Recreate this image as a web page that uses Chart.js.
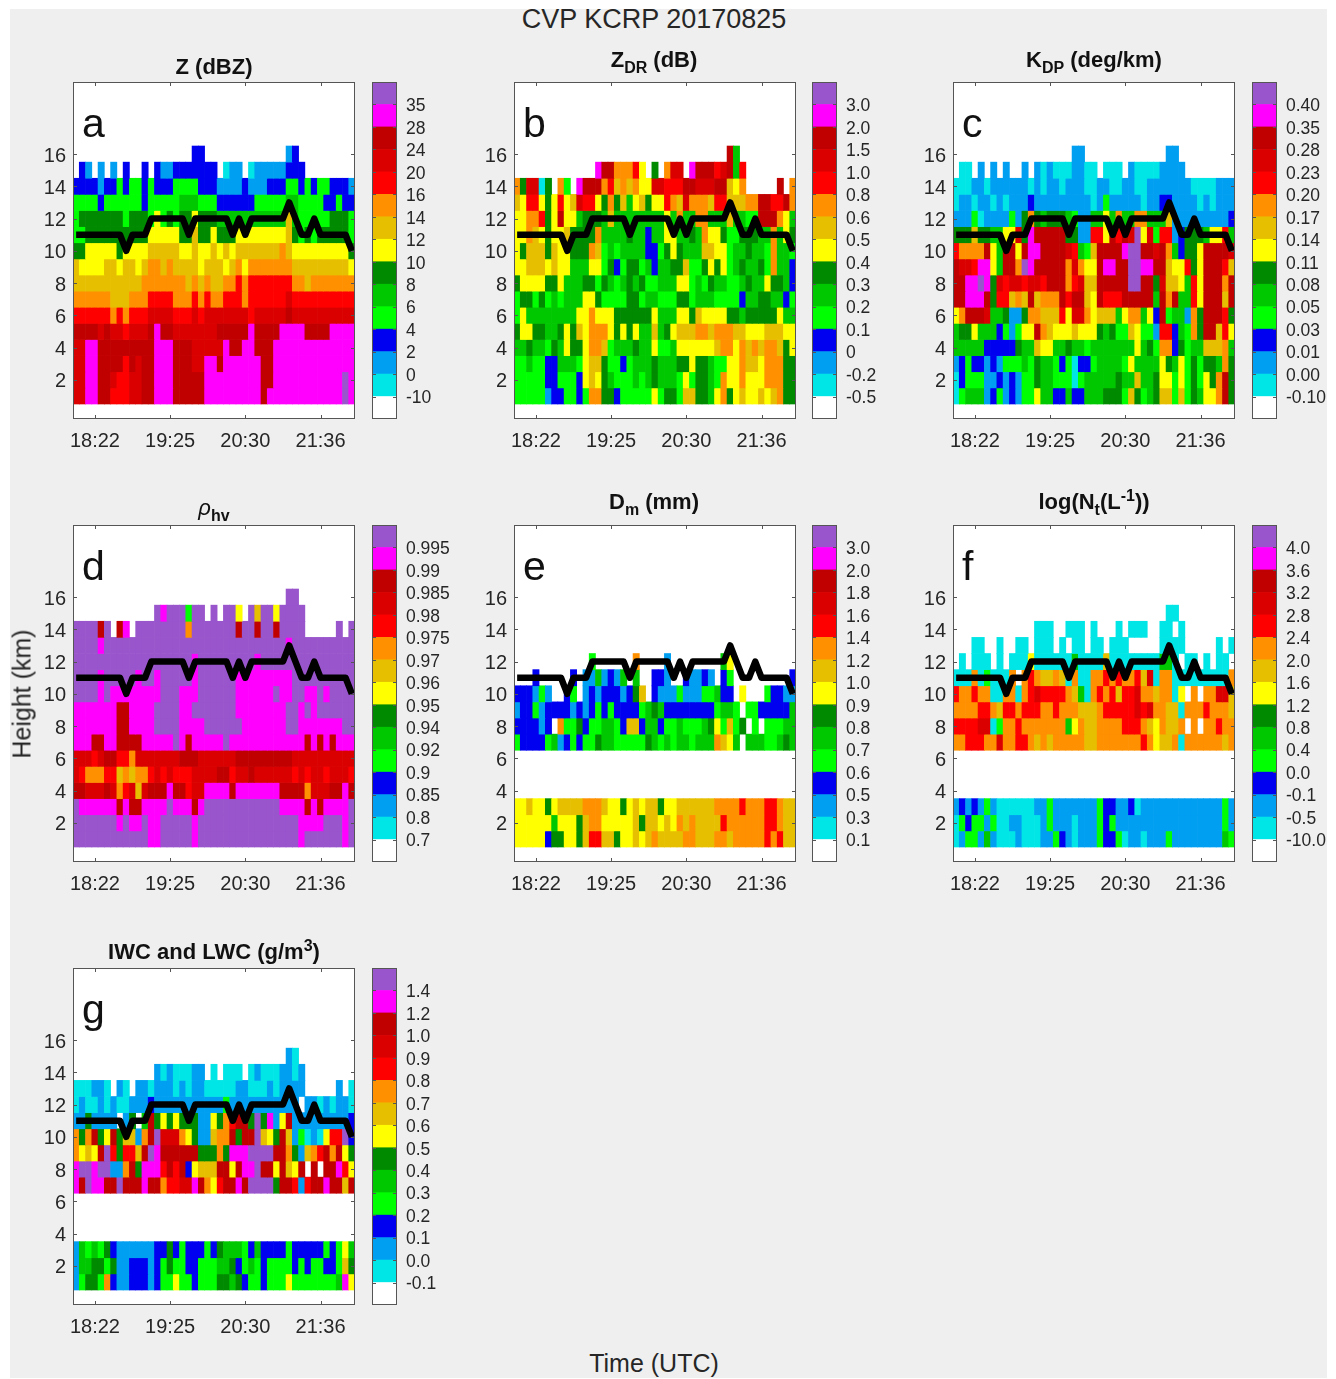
<!DOCTYPE html>
<html>
<head>
<meta charset="utf-8">
<title>CVP KCRP 20170825</title>
<script src="https://cdn.jsdelivr.net/npm/chart.js@4/dist/chart.umd.min.js"></script>
<style>
  html, body { margin: 0; padding: 0; background: #fff; }
  #page { position: absolute; left: 10px; top: 9px; width: 1317px; height: 1369px; background: #efefef; }
  canvas { position: absolute; filter: blur(0.5px); }
  .txt { position: absolute; transform: translate(-50%, -50%); white-space: nowrap; color: #262626; font-family: "Liberation Sans", Arial, sans-serif; }
  .title { font-size: 22px; font-weight: bold; color: #111; }
  .title sub { font-size: 16px; vertical-align: -6px; line-height: 0; }
  .title sup { font-size: 16px; vertical-align: 8px; line-height: 0; }
  .letter { transform: none; font-size: 41px; line-height: 1; color: #111; }
</style>
</head>
<body>
<div id="page"></div>
<script>
// time axis
const timeCols = [3, 15, 27, 39];
const timeLabels = ['18:22', '19:25', '20:30', '21:36'];
const heightTicks = [2, 4, 6, 8, 10, 12, 14, 16];
const rowHeights = [16, 15, 14, 13, 12, 11, 10, 9, 8, 7, 6, 5, 4, 3, 2, 1];

// black line, same in all panels (km, one per column)
const lineHeights = [11,11,11,11,11,11,11,11,10,11,11,11,12,12,12,12,12,12,11,12,12,12,12,12,12,11,12,11,12,12,12,12,12,12,13,12,11,11,12,11,11,11,11,11,10];

// colour classes: . and 1-9, a-e index into classColors
const classKeys = '.123456789abcde';
const classColors = ['#ffffff','#00e6e6','#009ff2','#0000f0','#00ff00','#00c800','#008a00','#ffff00','#e6c000','#ff9000','#ff0000','#da0000','#c00000','#ff00ff','#9955cc'];

// each row is one height, 16 km first, 45 columns
const zRows = [
  '..... ..... ..... ....3 3.... ..... ....2 3.... .....',
  '.32.2 .2.3. .3.32 23333 333.1 22.12 22223 33... .....',
  '33332 33434 43433 34444 33322 22322 23334 43434 43332',
  '44443 44444 43444 44555 44433 33334 44445 54444 33433',
  '46666 66646 66474 64667 66655 55555 55558 54444 46664',
  '44666 66666 66777 77668 66766 67777 77778 64646 66664',
  '66777 77677 77888 88778 77878 78888 88898 77777 77776',
  '87777 88788 78998 98888 78887 89799 99999 88888 88887',
  '88888 88888 89999 99989 89889 9a9aa aaaaa 99899 99999',
  '99999 98889 99aaa a999a 9a99a aa9aa aaaab aaaaa aaaaa',
  'aaaaa a9a9a aabbb baaab abbbb bbbab bbbbc bbbbb bbbbb',
  'ccccb cbbab bbcdc cbbbb bbbcc cccdc cccdd ddccc cdddd',
  'bbddc ccccc cccdd dcccb bbbbd ccddc ccddd ddddd ddddd',
  'bbddc cccac bccdd dcccb bddcd ddddd ccddd ddddd ddddd',
  'bbddc cbaab bccdd dcccc cdddd ddddd ccddd ddddd ddded',
  'bbddc caaab bccdd dcccc cdddd ddddd cdddd ddddd ddded'
];
const zdrRows = [
  '..... ..... ..... ..... ..... ..... ....c 5.... .....',
  '..... ..... ...dc c999a 7.6.9 bb.dc ccabc 5a... .....',
  '96bb1 6.94. dccc9 a8989 77bba aaccb bbcc8 79... ..c.9',
  '87aa7 67a78 baa76 96857 8677a 98b99 98aa8 8899c caac9',
  '7799a 67c77 56665 85555 55557 59559 95558 5544c cc975',
  '77987 67786 66695 55565 53557 75565 97764 46665 59576',
  '76888 68776 66984 54555 53346 76555 88774 55655 49554',
  '77888 78775 55774 63466 45355 66844 67674 56556 49553',
  '67777 66755 56646 54565 64455 57745 46554 45655 76653',
  '46646 45455 57764 44466 45544 46645 55444 43556 65534',
  '47555 55555 77977 76666 66755 57768 77776 65666 66755',
  '67766 55676 87999 76767 55856 78889 98999 88777 88877',
  '55655 46576 67998 45556 55744 57777 77899 79898 99867',
  '44544 33555 47886 44345 55655 56676 65447 79887 99966',
  '44444 33444 37876 54445 45655 54746 65497 79777 99966',
  '44444 23344 34996 63444 44746 64886 65796 78778 78966'
];
const kdpRows = [
  '..... ..... ..... ....2 2.... ..... ....2 2.... .....',
  '.11.2 .2.2. .2.21 21112 211.1 11.21 11122 22... .....',
  '11122 12222 22121 22122 21122 11221 12222 22211 11222',
  '12212 21212 22322 22222 22124 22222 12233 22221 21222',
  '22241 22224 26965 66654 22557 59559 95558 22222 22223',
  '66686 65577 b6dcc ccc66 22aa7 cacbe 7b4aa 23666 577a5',
  'a9999 c75cc 7cddc cccba 548cc ccdee ccbc9 53667 ccccb',
  'cbbad d75cc 9edcc ccc9b 977cd dccee ddcc8 77a67 ccca8',
  'ccdde d6bab babba ccc9a b88cc cccee cc6b8 875a7 ccc9c',
  'ccddd c6aa8 98c89 99cac c87ca aaccc cc5c9 c55a7 ccc8c',
  '79ccc b5562 26998 88a7b b9788 85799 573c4 55296 ccca6',
  '56675 55342 477c9 87778 77765 64487 442aa 35496 cc8a7',
  '55555 33333 65587 75565 54555 55557 56499 36455 88895',
  '23433 23244 45465 54341 33455 55475 55576 57464 66596',
  '13444 22323 24465 54441 45555 56558 55677 47464 769c6',
  '14555 23423 24475 53353 35556 66486 45688 48465 779c6'
];
const rhoRows = [
  '..... ..... ..... ..... ..... ..... ....e e.... .....',
  '..... ..... ...ed eee4e e.e.e e7.e8 ee7ee ee... .....',
  'eeeec e.cd. eeeee eee9e eeeee eceec eecee ee... ..e.e',
  'eeeed eeeee eeeee eeeee eeeee eeeee eeeed eeeee eeeee',
  'eeeee eeeee eeeee eeeed eeeee eeeed eeeee eeeee eeeee',
  'eeeed eeeee deede eeeed eeeee edddd ddddd eeeee eeeee',
  'eeeed edddd dddde eeddd eeeee edddd ddedd eedde deeee',
  'ddddd ddccd dddee eedde eeeee edddd dddde edede eeeee',
  'ddddd ddccd dddee eeddd deeee eeddd dddde edddd dddee',
  'dddcc ddccc cdddd dedcd dddde ddddd ddddd ddcdc dcddd',
  'bbbab ccaa9 bbbbb bbccc bbbbb bcccc ccccc bbbbb bbbbb',
  'ba999 aa898 99aba baaab bbbcc abbcb bbbbb ababb abbba',
  'ccbbb cb9ab 8bccc dccab bdddd cdddd dddcc cc9bb bccdc',
  'edddd ddcdc cdddd edddc deeee eeeee eeedd ddcdc dddde',
  'eeeee eeded dedde eeeed eeeee eeeee eeeee edddd eeede',
  'eeeee eeeee eedde eeeed eeeee eeeee eeeee edeee eeede'
];
const dmRows = [
  '..... ..... ..... ..... ..... ..... ..... ..... .....',
  '..... ..... ..... ..... ..... ..... ..... ..... .....',
  '..... ..... ..... ..... ..... ..... ..... ..... .....',
  '..... ..... ..... ..... ..... ..... ..... ..... .....',
  '..... ..... ..4.. ....9 ....2 ..... ...57 ..... .....',
  '...3. ....3 .2252 325.5 ..332 ..322 32.34 ..... ....3',
  '33324 2..34 .2323 33236 8.322 24222 44533 .7... 43322',
  '23342 33332 32343 43333 45653 33333 33455 4.443 33335',
  '33332 3.944 63445 54388 35534 45444 56748 46.4. 44455',
  '43333 45234 34465 54444 46545 45545 55987 5.555 44565',
  '..... ..... ..... ..... ..... ..... ..... ..... .....',
  '..... ..... ..... ..... ..... ..... ..... ..... .....',
  '..... ..... ..... ..... ..... ..... ..... ..... .....',
  '77877 67888 89998 77678 78867 78888 88999 9a999 aa988',
  '77777 75777 68997 77778 68878 79898 888a9 99999 aa988',
  '77777 36677 68aa8 86778 78988 88998 88998 99999 a9a88'
];
const ntRows = [
  '..... ..... ..... ..... ..... ..... ..... ..... .....',
  '..... ..... ..... ..... ..... ..... ....1 1.... .....',
  '..... ..... ...11 1..11 1.1.. .1.11 1..11 .1... .....',
  '...11 ..1.. 11.11 1.1.1 1.11. 111.. ...11 11... ..1.1',
  '.1.11 1.1.1 11711 11115 11118 11111 11155 1.11. 1.11.',
  '11191 41119 .9a98 89819 1199a 9a99a 8b199 11111 11119',
  'a99a9 91199 19aba aaa98 519a9 a8aab 99899 17.9. 99bb8',
  '9999a a98aa 9aaa9 9a999 8889a aaaab ab998 81999 a9998',
  'aaaab b1499 a9999 99957 98899 99aaa 98798 89.9. 99a99',
  '99aaa 99b99 aa989 89999 98899 99999 a9788 91999 99989',
  '..... ..... ..... ..... ..... ..... ..... ..... .....',
  '..... ..... ..... ..... ..... ..... ..... ..... .....',
  '..... ..... ..... ..... ..... ..... ..... ..... .....',
  '23232 42111 11122 42222 22243 32231 22222 22222 22242',
  '14344 24112 21112 42221 22243 42222 22222 22222 22242',
  '12442 52111 21112 24321 22243 34122 12224 22222 22254'
];
const wcRows = [
  '..... ..... ..... ..... ..... ..... ..... ..... .....',
  '..... ..... ..... ..... ..... ..... ....2 1.... .....',
  '..... ..... ...21 21112 2.1.1 11.12 11122 12... .....',
  '11122 1.21. 22122 21212 21111 12211 12122 22... ..2.1',
  '12112 12112 22322 22222 22224 22222 22222 2.221 21221',
  '22622 22.26 .5c67 67666 22769 acc6e 6d27c 22222 22223',
  '969c6 7c688 29ceb bb976 22899 c6cce 876c8 24121 7aae3',
  '9787c ea6aa 8cedc ccccc 66696 dddee eecc9 6289a c9c76',
  'deede e229c 6ddda cac37 888cc 7cdde cc7c8 7c.c. ccda7',
  'dcedd ccecc cdcc9 aabbd c97ac cdcee ee6cc a2acc dcc8c',
  '..... ..... ..... ..... ..... ..... ..... ..... .....',
  '..... ..... ..... ..... ..... ..... ..... ..... .....',
  '..... ..... ..... ..... ..... ..... ..... ..... .....',
  '25454 63222 22233 63433 34365 55435 33334 33333 43475',
  '25566 46223 33234 64433 44455 63454 34444 34344 33486',
  '24664 93223 33234 47443 44466 56344 34447 44444 445d7'
];

// colour bar labels, bottom to top
const zBar = ['-10','0','2','4','6','8','10','12','14','16','20','24','28','35'];
const zdrBar = ['-0.5','-0.2','0','0.1','0.2','0.3','0.4','0.5','0.6','0.8','1.0','1.5','2.0','3.0'];
const kdpBar = ['-0.10','0.00','0.01','0.03','0.05','0.08','0.11','0.14','0.17','0.20','0.23','0.28','0.35','0.40'];
const rhoBar = ['0.7','0.8','0.85','0.9','0.92','0.94','0.95','0.96','0.97','0.975','0.98','0.985','0.99','0.995'];
const dmBar = ['0.1','0.3','0.5','0.6','0.7','0.8','0.9','1.0','1.2','1.4','1.6','1.8','2.0','3.0'];
const ntBar = ['-10.0','-0.5','-0.1','0.0','0.4','0.8','1.2','1.6','2.0','2.4','2.8','3.2','3.6','4.0'];
const wcBar = ['-0.1','0.0','0.1','0.2','0.3','0.4','0.5','0.6','0.7','0.8','0.9','1.0','1.2','1.4'];

const FONT = '"Liberation Sans", Arial, sans-serif';
const TEXT = '#262626';
const PLOT_W = 282, PLOT_H = 337;
const page = document.getElementById('page');

function addText(html, x, y, cls, css) {
  const d = document.createElement('div');
  d.className = 'txt ' + (cls || '');
  d.innerHTML = html;
  d.style.left = (x - 10) + 'px';
  d.style.top = (y - 9) + 'px';
  if (css) Object.assign(d.style, css);
  page.appendChild(d);
}

function addCanvas(x, y, w, h) {
  const c = document.createElement('canvas');
  c.width = w; c.height = h;
  c.style.left = (x - 10) + 'px';
  c.style.top = (y - 9) + 'px';
  c.style.width = w + 'px';
  c.style.height = h + 'px';
  page.appendChild(c);
  return c;
}

// tick labels must not push the plot area in
function noPadding(s) {
  s.paddingTop = 0; s.paddingBottom = 0; s.paddingLeft = 0; s.paddingRight = 0;
}

// white plot area, dark frame and inward ticks like the matlab axes
const framePlugin = {
  id: 'frame',
  beforeDraw(chart) {
    const a = chart.chartArea, ctx = chart.ctx;
    ctx.save();
    ctx.fillStyle = '#fff';
    ctx.fillRect(a.left, a.top, a.right - a.left, a.bottom - a.top);
    ctx.restore();
  },
  afterDraw(chart) {
    const a = chart.chartArea, ctx = chart.ctx;
    ctx.save();
    ctx.strokeStyle = '#555';
    ctx.lineWidth = 1;
    ctx.strokeRect(a.left + 0.5, a.top + 0.5, a.right - a.left - 1, a.bottom - a.top - 1);
    ctx.beginPath();
    const y = chart.scales.y, x = chart.scales.x;
    y.ticks.forEach(t => {
      const p = Math.round(y.getPixelForValue(t.value)) + 0.5;
      ctx.moveTo(a.left, p); ctx.lineTo(a.left + 4, p);
      ctx.moveTo(a.right, p); ctx.lineTo(a.right - 4, p);
    });
    if (x.options.display) {
      x.ticks.forEach(t => {
        const p = Math.round(x.getPixelForValue(t.value)) + 0.5;
        ctx.moveTo(p, a.top); ctx.lineTo(p, a.top + 4);
        ctx.moveTo(p, a.bottom); ctx.lineTo(p, a.bottom - 4);
      });
    }
    ctx.stroke();
    ctx.restore();
  }
};

function drawPanel(px, py, rows) {
  const grid = rows.map(r => r.replace(/ /g, ''));
  const cols = lineHeights.map((_, i) => i);

  const datasets = rowHeights.map((h, r) => {
    const classes = grid[r].split('').map(c => classKeys.indexOf(c));
    return {
      type: 'bar',
      order: 1,
      grouped: false,
      barPercentage: 1,
      categoryPercentage: 1,
      borderWidth: 0,
      data: classes.map(k => (k > 0 ? [h - 0.5, h + 0.5] : null)),
      backgroundColor: classes.map(k => classColors[Math.max(k, 0)])
    };
  });
  datasets.push({
    type: 'line',
    order: 0,
    data: lineHeights,
    borderColor: '#000',
    borderWidth: 6.5,
    borderJoinStyle: 'round',
    borderCapStyle: 'butt',
    tension: 0,
    pointRadius: 0
  });

  new Chart(addCanvas(px - 60, py - 10, PLOT_W + 65, PLOT_H + 55), {
    type: 'bar',
    data: { labels: cols, datasets },
    plugins: [framePlugin],
    options: {
      responsive: false,
      animation: false,
      layout: { autoPadding: false, padding: { top: 10, right: 5 } },
      plugins: { legend: { display: false }, tooltip: { enabled: false } },
      scales: {
        x: {
          type: 'category',
          offset: true,
          grid: { display: false, drawTicks: false },
          border: { display: false },
          afterBuildTicks: s => { s.ticks = timeCols.map(c => ({ value: c })); },
          afterFit: s => { s.height = 45; noPadding(s); },
          ticks: {
            autoSkip: false, maxRotation: 0, padding: 10, color: TEXT,
            font: { family: FONT, size: 20 },
            callback: v => timeLabels[timeCols.indexOf(v)]
          }
        },
        y: {
          type: 'linear',
          min: -0.43,
          max: 20.47,
          grid: { display: false, drawTicks: false },
          border: { display: false },
          afterBuildTicks: s => { s.ticks = heightTicks.map(v => ({ value: v })); },
          afterFit: s => { s.width = 60; noPadding(s); },
          ticks: { padding: 7, labelOffset: 2, color: TEXT, font: { family: FONT, size: 20 } }
        }
      }
    }
  });
}

function drawBar(bx, by, labels) {
  const levels = classColors.map((_, i) => i);
  const datasets = levels.map(i => ({
    grouped: false,
    barPercentage: 1,
    categoryPercentage: 1,
    borderWidth: 0,
    data: [[i, i + 1]],
    backgroundColor: classColors[i]
  }));
  new Chart(addCanvas(bx, by - 10, 25 + 60, PLOT_H + 20), {
    type: 'bar',
    data: { labels: [''], datasets },
    plugins: [framePlugin],
    options: {
      responsive: false,
      animation: false,
      layout: { autoPadding: false, padding: { top: 10, bottom: 10 } },
      plugins: { legend: { display: false }, tooltip: { enabled: false } },
      scales: {
        x: { display: false },
        y: {
          type: 'linear',
          position: 'right',
          min: 0,
          max: levels.length,
          grid: { display: false, drawTicks: false },
          border: { display: false },
          afterBuildTicks: s => { s.ticks = labels.map((_, i) => ({ value: i + 1 })); },
          afterFit: s => { s.width = 60; noPadding(s); },
          ticks: {
            padding: 9, labelOffset: 2, color: TEXT, font: { family: FONT, size: 17.5 },
            callback: v => labels[v - 1]
          }
        }
      }
    }
  });
}

const X = [73, 514, 953], Y = [82, 525, 968];
const BAR_X = [372, 812, 1252];
const panels = [
  [0, 0, zRows, zBar, 'a'], [1, 0, zdrRows, zdrBar, 'b'], [2, 0, kdpRows, kdpBar, 'c'],
  [0, 1, rhoRows, rhoBar, 'd'], [1, 1, dmRows, dmBar, 'e'], [2, 1, ntRows, ntBar, 'f'],
  [0, 2, wcRows, wcBar, 'g']
];
panels.forEach(([c, r, rows, bar, letter]) => {
  drawPanel(X[c], Y[r], rows);
  drawBar(BAR_X[c], Y[r], bar);
  addText(letter, X[c] + 9, Y[r] + 21, 'letter');
});

addText('CVP KCRP 20170825', 654, 19, '', { fontSize: '27px' });
addText('Height (km)', 22, 694, '', { fontSize: '25px', transform: 'translate(-50%,-50%) rotate(-90deg)' });
addText('Time (UTC)', 654, 1363, '', { fontSize: '25px' });

addText('Z (dBZ)', 214, 67, 'title');
addText('Z<sub>DR</sub> (dB)', 654, 60, 'title');
addText('K<sub>DP</sub> (deg/km)', 1094, 60, 'title');
addText('<i style="font-weight:normal">&rho;</i><sub>hv</sub>', 214, 508, 'title');
addText('D<sub>m</sub> (mm)', 654, 502, 'title');
addText('log(N<sub>t</sub>(L<sup>-1</sup>))', 1094, 502, 'title');
addText('IWC and LWC (g/m<sup>3</sup>)', 214, 952, 'title');
</script>
</body>
</html>
